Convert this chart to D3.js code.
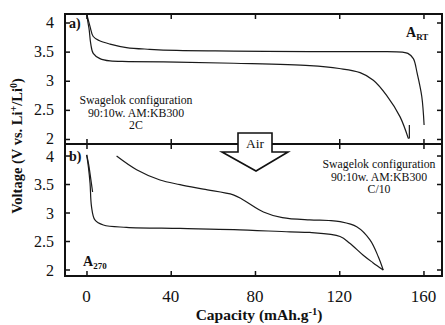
<!DOCTYPE html>
<html><head><meta charset="utf-8">
<script src="https://cdn.jsdelivr.net/npm/d3@7/dist/d3.min.js"></script>
<style>body{margin:0;background:#fff}svg{display:block}</style>
</head><body>
<svg id="c" width="445" height="325" font-family="'Liberation Serif', 'DejaVu Serif', serif"></svg>
<script>
// ---- data ----
const xTicks = [0, 40, 80, 120, 160];
const yTicks = [2, 2.5, 3, 3.5, 4];
// top panel (A_RT, 2C)
const topUpper = [[0.1,4.146],[0.8,4.05],[1.7,3.93],[3.2,3.76],[6,3.69],[11.2,3.63],[19,3.57],[30,3.54],[42.8,3.52],[70,3.51],[106,3.50],[120,3.50],[140,3.50],[150,3.49],[152.6,3.47],[155.2,3.38],[157,3.13],[159.2,2.73],[160.3,2.24]];
const topLower = [[0.1,4.146],[0.7,4.0],[1.3,3.87],[2,3.64],[3.2,3.47],[6.4,3.38],[11.2,3.34],[20,3.33],[42.8,3.32],[70,3.30],[106,3.26],[120,3.21],[129.9,3.14],[136.2,3.01],[142.5,2.75],[148.9,2.38],[152.8,2.01]];
const topHook = [[152.8,2.01],[153.3,2.02],[153.3,2.24]];
// bottom panel (A_270, C/10)
const botLower = [[0.1,4.01],[0.9,3.8],[1.7,3.51],[2.4,3.1],[4,2.87],[8,2.78],[19,2.74],[44.4,2.72],[70,2.70],[96.6,2.66],[106,2.65],[120.4,2.58],[125,2.46],[131.4,2.25],[136,2.12],[140.9,1.99]];
const botUpper = [[14.3,3.99],[23.8,3.75],[34.9,3.57],[44.4,3.49],[55.5,3.41],[69.7,3.31],[74.5,3.22],[84,3.01],[93,2.91],[106,2.87],[115,2.86],[120.4,2.84],[128.3,2.75],[134.6,2.52],[138.6,2.22],[140.9,1.99]];
const botSmall = [[0.1,4.01],[1,3.85],[2,3.6],[2.9,3.36]];

const FONT = "'Liberation Serif', 'DejaVu Serif', serif";
const svg = d3.select('#c');
const L = 65, R = 442, T = 14, M = 144, B = 276;
const x = d3.scaleLinear().domain([-10.2, 168.8]).range([L, R]);
const yTop = d3.scaleLinear().domain([1.914, 4.146]).range([M, T]);
const yBot = d3.scaleLinear().domain([1.886, 4.202]).range([B, M]);

function drawLine(data, y, curve) {
  svg.append('path').datum(data)
    .attr('fill', 'none').attr('stroke', '#1a1a1a').attr('stroke-width', 1.2)
    .attr('d', d3.line().x(d => x(d[0])).y(d => y(d[1])).curve(curve || d3.curveCatmullRom.alpha(0.5)));
}
drawLine(topUpper, yTop);
drawLine(topLower, yTop);
drawLine(topHook, yTop, d3.curveLinear);
drawLine(botLower, yBot);
drawLine(botUpper, yBot);
drawLine(botSmall, yBot);

// axes / ticks
const tk = 5;
function axisGroup(axisFn, tx, ty) {
  const g = svg.append('g').attr('transform', `translate(${tx},${ty})`).call(axisFn);
  g.select('.domain').remove();
  g.selectAll('line').attr('stroke', '#111').attr('stroke-width', 1.5);
  g.selectAll('text').remove();
  return g;
}
axisGroup(d3.axisBottom(x).tickValues(xTicks).tickSize(tk), 0, T);
axisGroup(d3.axisTop(x).tickValues(xTicks).tickSize(tk), 0, M);
axisGroup(d3.axisRight(yTop).tickValues(yTicks).tickSize(tk), L, 0);
axisGroup(d3.axisLeft(yTop).tickValues(yTicks).tickSize(tk), R, 0);
axisGroup(d3.axisBottom(x).tickValues(xTicks).tickSize(tk), 0, M);
axisGroup(d3.axisTop(x).tickValues(xTicks).tickSize(tk), 0, B);
axisGroup(d3.axisRight(yBot).tickValues(yTicks).tickSize(tk), L, 0);
axisGroup(d3.axisLeft(yBot).tickValues(yTicks).tickSize(tk), R, 0);

// frames
svg.append('rect').attr('x', L).attr('y', T).attr('width', R - L).attr('height', B - T)
  .attr('fill', 'none').attr('stroke', '#111').attr('stroke-width', 2);
svg.append('line').attr('x1', L).attr('x2', R).attr('y1', M).attr('y2', M)
  .attr('stroke', '#111').attr('stroke-width', 2);

function txt(xp, yp, size, anchor, weight) {
  return svg.append('text').attr('x', xp).attr('y', yp).attr('font-family', FONT)
    .attr('font-size', size).attr('text-anchor', anchor || 'start')
    .attr('font-weight', weight || 'normal').attr('fill', '#111');
}

// tick labels
yTicks.forEach(d => { txt(54, yTop(d) + 5, 16, 'end').text(d); txt(54, yBot(d) + 6, 16, 'end').text(d); });
xTicks.forEach(d => txt(x(d), 302, 17, 'middle').text(d));

// axis titles
const xt = txt(259, 320, 15.5, 'middle', 'bold');
xt.append('tspan').text('Capacity (mAh.g');
xt.append('tspan').attr('dy', -5).attr('font-size', 10.5).text('-1');
xt.append('tspan').attr('dy', 5).text(')');

const yt = svg.append('text').attr('transform', 'translate(22,146) rotate(-90)').attr('font-family', FONT)
  .attr('text-anchor', 'middle').attr('font-size', 14.5).attr('font-weight', 'bold').attr('fill', '#111');
yt.append('tspan').text('Voltage (V vs. Li');
yt.append('tspan').attr('dy', -5).attr('font-size', 10).text('+');
yt.append('tspan').attr('dy', 5).text('/Li');
yt.append('tspan').attr('dy', -5).attr('font-size', 10).text('0');
yt.append('tspan').attr('dy', 5).text(')');

// panel labels
txt(69, 28, 14, 'start', 'bold').text('a)');
txt(69, 161, 14, 'start', 'bold').text('b)');
const art = txt(406, 37, 14, 'start', 'bold');
art.append('tspan').text('A');
art.append('tspan').attr('dy', 3).attr('font-size', 9).text('RT');
const a270 = txt(83, 266, 14, 'start', 'bold');
a270.append('tspan').text('A');
a270.append('tspan').attr('dy', 3).attr('font-size', 9).text('270');

// annotations
function block(lines, cx, y0) {
  lines.forEach((s, i) => txt(cx, y0 + i * 12.5, 11.8, 'middle').text(s));
}
block(['Swagelok configuration', '90:10w. AM:KB300', '2C'], 136, 104);
block(['Swagelok configuration', '90:10w. AM:KB300', 'C/10'], 379, 168);

// Air arrow
const arrow = [[238,133],[272,133],[272,152],[288,152],[256,171],[222,152],[238,152]];
svg.append('polygon').attr('points', arrow.map(p => p.join(',')).join(' '))
  .attr('fill', '#fff').attr('stroke', '#111').attr('stroke-width', 1.6);
txt(255, 148, 13.5, 'middle').text('Air');
</script>
</body></html>
